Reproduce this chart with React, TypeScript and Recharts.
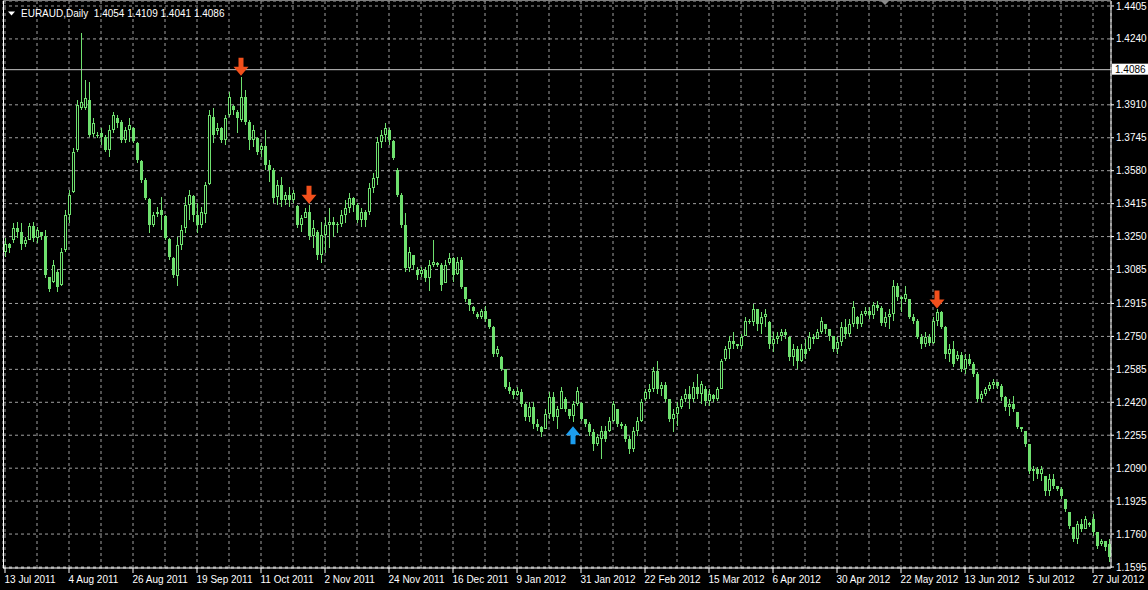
import {
  ComposedChart,
  Bar,
  Scatter,
  XAxis,
  YAxis,
  CartesianGrid,
  ReferenceLine,
} from "recharts";

// EURAUD daily bars, 13 Jul 2011 .. end of Jul 2012
const opens: number[] = [
  1.3175, 1.3215, 1.3235, 1.3295, 1.3275, 1.3215, 1.3235, 1.3305, 1.3245, 1.3275,
  1.3255, 1.3050, 1.3025, 1.3075, 1.3010, 1.3185, 1.3360, 1.3475, 1.3685, 1.3895,
  1.3895, 1.3935, 1.3765, 1.3760, 1.3770, 1.3750, 1.3685, 1.3785, 1.3845, 1.3825,
  1.3735, 1.3785, 1.3795, 1.3720, 1.3630, 1.3535, 1.3440, 1.3310, 1.3365, 1.3385,
  1.3355, 1.3240, 1.3145, 1.3055, 1.3210, 1.3295, 1.3410, 1.3455, 1.3360, 1.3310,
  1.3365, 1.3515, 1.3850, 1.3780, 1.3795, 1.3735, 1.3860, 1.3905, 1.3875, 1.3835,
  1.3950, 1.3825, 1.3735, 1.3745, 1.3685, 1.3705, 1.3610, 1.3585, 1.3450, 1.3510,
  1.3435, 1.3460, 1.3435, 1.3405, 1.3310, 1.3345, 1.3375, 1.3255, 1.3275, 1.3160,
  1.3260, 1.3310, 1.3325, 1.3310, 1.3315, 1.3360, 1.3395, 1.3445, 1.3410, 1.3335,
  1.3375, 1.3375, 1.3495, 1.3545, 1.3725, 1.3760, 1.3785, 1.3730, 1.3585, 1.3460,
  1.3310, 1.3095, 1.3160, 1.3085, 1.3065, 1.3085, 1.3045, 1.3110, 1.3120, 1.3110,
  1.3020, 1.3120, 1.3145, 1.3065, 1.3135, 1.2995, 1.2935, 1.2895, 1.2860, 1.2845,
  1.2875, 1.2835, 1.2795, 1.2660, 1.2645, 1.2585, 1.2495, 1.2475, 1.2455, 1.2470,
  1.2410, 1.2345, 1.2395, 1.2310, 1.2295, 1.2285, 1.2360, 1.2445, 1.2345, 1.2385,
  1.2435, 1.2385, 1.2350, 1.2410, 1.2415, 1.2335, 1.2310, 1.2270, 1.2210, 1.2235,
  1.2275, 1.2275, 1.2325, 1.2385, 1.2310, 1.2300, 1.2235, 1.2185, 1.2275, 1.2325,
  1.2435, 1.2470, 1.2485, 1.2575, 1.2485, 1.2505, 1.2435, 1.2335, 1.2360, 1.2395,
  1.2435, 1.2460, 1.2435, 1.2495, 1.2460, 1.2485, 1.2425, 1.2455, 1.2435, 1.2485,
  1.2635, 1.2685, 1.2725, 1.2710, 1.2700, 1.2750, 1.2825, 1.2820, 1.2885, 1.2810,
  1.2845, 1.2820, 1.2710, 1.2735, 1.2750, 1.2770, 1.2745, 1.2645, 1.2685, 1.2625,
  1.2685, 1.2685, 1.2745, 1.2735, 1.2770, 1.2810, 1.2785, 1.2750, 1.2685, 1.2720,
  1.2795, 1.2760, 1.2810, 1.2845, 1.2810, 1.2860, 1.2875, 1.2855, 1.2905, 1.2890,
  1.2815, 1.2845, 1.2860, 1.3000, 1.2945, 1.2935, 1.2935, 1.2845, 1.2825, 1.2745,
  1.2710, 1.2745, 1.2715, 1.2825, 1.2870, 1.2795, 1.2660, 1.2685, 1.2635, 1.2655,
  1.2585, 1.2635, 1.2610, 1.2560, 1.2435, 1.2460, 1.2485, 1.2505, 1.2520, 1.2500,
  1.2445, 1.2395, 1.2410, 1.2370, 1.2295, 1.2275, 1.2210, 1.2075, 1.2085, 1.2060,
  1.2050, 1.1975, 1.2035, 1.2000, 1.1985, 1.1935, 1.1870, 1.1795, 1.1735, 1.1810,
  1.1785, 1.1815, 1.1835, 1.1770, 1.1710, 1.1725, 1.1710,
];

const highs: number[] = [
  1.3245, 1.3220, 1.3320, 1.3325, 1.3320, 1.3250, 1.3320, 1.3325, 1.3300, 1.3275,
  1.3285, 1.3050, 1.3135, 1.3085, 1.3195, 1.3385, 1.3485, 1.3695, 1.3935, 1.4270,
  1.4035, 1.4025, 1.3845, 1.3775, 1.3795, 1.3760, 1.3810, 1.3875, 1.3860, 1.3835,
  1.3800, 1.3845, 1.3800, 1.3725, 1.3635, 1.3545, 1.3445, 1.3375, 1.3400, 1.3450,
  1.3360, 1.3245, 1.3150, 1.3250, 1.3310, 1.3450, 1.3485, 1.3460, 1.3420, 1.3400,
  1.3525, 1.3885, 1.3895, 1.3820, 1.3800, 1.3860, 1.3975, 1.3910, 1.3885, 1.4050,
  1.3985, 1.3835, 1.3810, 1.3750, 1.3720, 1.3785, 1.3635, 1.3595, 1.3535, 1.3550,
  1.3475, 1.3500, 1.3485, 1.3410, 1.3360, 1.3395, 1.3410, 1.3335, 1.3285, 1.3325,
  1.3350, 1.3395, 1.3350, 1.3325, 1.3385, 1.3435, 1.3470, 1.3450, 1.3420, 1.3395,
  1.3385, 1.3520, 1.3570, 1.3750, 1.3785, 1.3820, 1.3795, 1.3735, 1.3595, 1.3470,
  1.3370, 1.3200, 1.3160, 1.3100, 1.3100, 1.3100, 1.3135, 1.3235, 1.3125, 1.3120,
  1.3135, 1.3170, 1.3150, 1.3150, 1.3150, 1.2995, 1.2935, 1.2900, 1.2870, 1.2885,
  1.2900, 1.2835, 1.2800, 1.2700, 1.2650, 1.2585, 1.2520, 1.2485, 1.2495, 1.2485,
  1.2420, 1.2420, 1.2420, 1.2335, 1.2300, 1.2385, 1.2470, 1.2470, 1.2400, 1.2495,
  1.2445, 1.2385, 1.2425, 1.2495, 1.2420, 1.2335, 1.2320, 1.2285, 1.2260, 1.2300,
  1.2300, 1.2345, 1.2425, 1.2385, 1.2320, 1.2310, 1.2250, 1.2295, 1.2345, 1.2435,
  1.2485, 1.2510, 1.2595, 1.2625, 1.2520, 1.2520, 1.2435, 1.2385, 1.2420, 1.2450,
  1.2485, 1.2500, 1.2520, 1.2560, 1.2525, 1.2500, 1.2485, 1.2460, 1.2495, 1.2635,
  1.2700, 1.2750, 1.2770, 1.2710, 1.2760, 1.2845, 1.2835, 1.2910, 1.2885, 1.2870,
  1.2885, 1.2825, 1.2770, 1.2770, 1.2785, 1.2785, 1.2750, 1.2710, 1.2700, 1.2710,
  1.2735, 1.2770, 1.2760, 1.2785, 1.2845, 1.2810, 1.2785, 1.2750, 1.2745, 1.2820,
  1.2835, 1.2835, 1.2925, 1.2850, 1.2875, 1.2895, 1.2895, 1.2920, 1.2925, 1.2900,
  1.2870, 1.2885, 1.3035, 1.3020, 1.2950, 1.3000, 1.2935, 1.2860, 1.2835, 1.2760,
  1.2770, 1.2760, 1.2845, 1.2885, 1.2875, 1.2800, 1.2710, 1.2725, 1.2675, 1.2670,
  1.2660, 1.2660, 1.2620, 1.2570, 1.2475, 1.2495, 1.2520, 1.2535, 1.2520, 1.2510,
  1.2450, 1.2435, 1.2450, 1.2370, 1.2295, 1.2275, 1.2210, 1.2100, 1.2095, 1.2100,
  1.2050, 1.2060, 1.2060, 1.2000, 1.1995, 1.1935, 1.1870, 1.1795, 1.1825, 1.1835,
  1.1850, 1.1820, 1.1860, 1.1770, 1.1735, 1.1725, 1.1735,
];

const lows: number[] = [
  1.3150, 1.3170, 1.3220, 1.3245, 1.3185, 1.3200, 1.3235, 1.3225, 1.3220, 1.3235,
  1.3045, 1.2970, 1.3020, 1.2970, 1.3000, 1.3175, 1.3320, 1.3470, 1.3675, 1.3885,
  1.3885, 1.3750, 1.3750, 1.3745, 1.3710, 1.3675, 1.3650, 1.3770, 1.3795, 1.3720,
  1.3720, 1.3725, 1.3720, 1.3620, 1.3520, 1.3435, 1.3270, 1.3300, 1.3350, 1.3285,
  1.3235, 1.3135, 1.3045, 1.3000, 1.3185, 1.3270, 1.3335, 1.3325, 1.3270, 1.3295,
  1.3320, 1.3510, 1.3720, 1.3760, 1.3720, 1.3710, 1.3850, 1.3860, 1.3770, 1.3825,
  1.3810, 1.3685, 1.3700, 1.3660, 1.3650, 1.3585, 1.3525, 1.3420, 1.3410, 1.3400,
  1.3410, 1.3400, 1.3420, 1.3295, 1.3275, 1.3345, 1.3235, 1.3195, 1.3135, 1.3120,
  1.3170, 1.3195, 1.3250, 1.3270, 1.3300, 1.3320, 1.3370, 1.3375, 1.3320, 1.3300,
  1.3300, 1.3360, 1.3470, 1.3510, 1.3695, 1.3725, 1.3710, 1.3635, 1.3450, 1.3295,
  1.3075, 1.3075, 1.3085, 1.3035, 1.3050, 1.3025, 1.2975, 1.3100, 1.3100, 1.2975,
  1.3020, 1.3110, 1.3025, 1.3060, 1.2985, 1.2920, 1.2875, 1.2860, 1.2835, 1.2835,
  1.2820, 1.2785, 1.2645, 1.2645, 1.2575, 1.2485, 1.2460, 1.2435, 1.2450, 1.2395,
  1.2325, 1.2320, 1.2285, 1.2275, 1.2245, 1.2285, 1.2335, 1.2325, 1.2285, 1.2385,
  1.2370, 1.2335, 1.2320, 1.2400, 1.2325, 1.2295, 1.2250, 1.2175, 1.2200, 1.2135,
  1.2220, 1.2270, 1.2320, 1.2295, 1.2285, 1.2220, 1.2160, 1.2170, 1.2250, 1.2320,
  1.2425, 1.2435, 1.2470, 1.2460, 1.2450, 1.2420, 1.2320, 1.2270, 1.2300, 1.2385,
  1.2420, 1.2385, 1.2420, 1.2435, 1.2410, 1.2400, 1.2400, 1.2420, 1.2425, 1.2485,
  1.2625, 1.2635, 1.2685, 1.2685, 1.2685, 1.2750, 1.2810, 1.2800, 1.2775, 1.2760,
  1.2795, 1.2685, 1.2670, 1.2710, 1.2725, 1.2735, 1.2625, 1.2600, 1.2585, 1.2620,
  1.2635, 1.2675, 1.2710, 1.2735, 1.2760, 1.2760, 1.2725, 1.2670, 1.2660, 1.2700,
  1.2735, 1.2745, 1.2795, 1.2785, 1.2795, 1.2850, 1.2835, 1.2835, 1.2875, 1.2800,
  1.2795, 1.2785, 1.2825, 1.2925, 1.2870, 1.2920, 1.2835, 1.2810, 1.2735, 1.2685,
  1.2695, 1.2700, 1.2710, 1.2800, 1.2785, 1.2635, 1.2620, 1.2595, 1.2625, 1.2570,
  1.2560, 1.2600, 1.2545, 1.2420, 1.2420, 1.2450, 1.2475, 1.2485, 1.2485, 1.2425,
  1.2375, 1.2350, 1.2370, 1.2285, 1.2270, 1.2195, 1.2060, 1.2025, 1.2035, 1.2025,
  1.1950, 1.1950, 1.1985, 1.1975, 1.1935, 1.1870, 1.1785, 1.1720, 1.1710, 1.1770,
  1.1785, 1.1795, 1.1750, 1.1685, 1.1700, 1.1675, 1.1620,
];

const closes: number[] = [
  1.3215, 1.3195, 1.3295, 1.3275, 1.3215, 1.3235, 1.3305, 1.3245, 1.3285, 1.3255,
  1.3060, 1.2985, 1.3110, 1.2995, 1.3175, 1.3360, 1.3460, 1.3675, 1.3910, 1.3925,
  1.3945, 1.3760, 1.3820, 1.3755, 1.3750, 1.3685, 1.3785, 1.3860, 1.3820, 1.3735,
  1.3785, 1.3810, 1.3730, 1.3635, 1.3535, 1.3445, 1.3310, 1.3360, 1.3375, 1.3360,
  1.3245, 1.3150, 1.3060, 1.3210, 1.3285, 1.3410, 1.3460, 1.3360, 1.3310, 1.3375,
  1.3510, 1.3860, 1.3760, 1.3795, 1.3735, 1.3845, 1.3950, 1.3885, 1.3845, 1.3950,
  1.3825, 1.3735, 1.3785, 1.3675, 1.3705, 1.3610, 1.3585, 1.3445, 1.3510, 1.3435,
  1.3460, 1.3435, 1.3470, 1.3310, 1.3345, 1.3375, 1.3255, 1.3295, 1.3160, 1.3260,
  1.3310, 1.3325, 1.3310, 1.3315, 1.3360, 1.3395, 1.3445, 1.3410, 1.3335, 1.3375,
  1.3335, 1.3495, 1.3545, 1.3725, 1.3760, 1.3795, 1.3735, 1.3645, 1.3460, 1.3310,
  1.3095, 1.3175, 1.3110, 1.3060, 1.3085, 1.3045, 1.3110, 1.3125, 1.3110, 1.3010,
  1.3110, 1.3145, 1.3060, 1.3125, 1.2995, 1.2935, 1.2905, 1.2875, 1.2845, 1.2875,
  1.2835, 1.2795, 1.2660, 1.2685, 1.2585, 1.2495, 1.2475, 1.2455, 1.2475, 1.2410,
  1.2345, 1.2395, 1.2310, 1.2295, 1.2270, 1.2360, 1.2445, 1.2345, 1.2385, 1.2475,
  1.2385, 1.2350, 1.2410, 1.2475, 1.2335, 1.2310, 1.2270, 1.2210, 1.2245, 1.2275,
  1.2235, 1.2325, 1.2410, 1.2310, 1.2300, 1.2235, 1.2185, 1.2275, 1.2325, 1.2420,
  1.2470, 1.2485, 1.2575, 1.2485, 1.2505, 1.2435, 1.2335, 1.2360, 1.2395, 1.2435,
  1.2460, 1.2435, 1.2495, 1.2460, 1.2510, 1.2425, 1.2460, 1.2435, 1.2485, 1.2625,
  1.2685, 1.2725, 1.2710, 1.2700, 1.2745, 1.2825, 1.2820, 1.2885, 1.2810, 1.2845,
  1.2860, 1.2710, 1.2735, 1.2750, 1.2770, 1.2755, 1.2645, 1.2685, 1.2625, 1.2685,
  1.2660, 1.2745, 1.2735, 1.2770, 1.2825, 1.2785, 1.2750, 1.2685, 1.2720, 1.2795,
  1.2760, 1.2810, 1.2895, 1.2810, 1.2860, 1.2875, 1.2855, 1.2905, 1.2890, 1.2815,
  1.2845, 1.2860, 1.3000, 1.2945, 1.2935, 1.2960, 1.2845, 1.2825, 1.2745, 1.2710,
  1.2745, 1.2715, 1.2825, 1.2870, 1.2795, 1.2660, 1.2685, 1.2610, 1.2655, 1.2585,
  1.2635, 1.2610, 1.2560, 1.2435, 1.2460, 1.2485, 1.2505, 1.2520, 1.2500, 1.2445,
  1.2395, 1.2410, 1.2385, 1.2295, 1.2285, 1.2210, 1.2075, 1.2085, 1.2060, 1.2085,
  1.1975, 1.2035, 1.2000, 1.1985, 1.1950, 1.1885, 1.1800, 1.1735, 1.1810, 1.1785,
  1.1835, 1.1805, 1.1770, 1.1700, 1.1725, 1.1695, 1.1645,
];

// one label every 16 bars
const dateLabels = [
  "13 Jul 2011", "4 Aug 2011", "26 Aug 2011", "19 Sep 2011", "11 Oct 2011",
  "2 Nov 2011", "24 Nov 2011", "16 Dec 2011", "9 Jan 2012", "31 Jan 2012",
  "22 Feb 2012", "15 Mar 2012", "6 Apr 2012", "30 Apr 2012", "22 May 2012",
  "13 Jun 2012", "5 Jul 2012", "27 Jul 2012",
];

const priceTicks = [
  1.4405, 1.424, 1.391, 1.3745, 1.358, 1.3415, 1.325, 1.3085, 1.2915, 1.275,
  1.2585, 1.242, 1.2255, 1.209, 1.1925, 1.176, 1.1595,
];

const lastPrice = 1.4086;
const header = "EURAUD,Daily\u00a0\u00a01.4054 1.4109 1.4041 1.4086";

// signal arrows (bar indices)
const sellBars = [59, 76, 233];
const buyBars = [142];

const LABEL_STEP = 16;
const GREEN = "#6ee06e";
const FONT = "'Liberation Sans', Arial, sans-serif";
const FS = 10;

const candles = opens.map((open, i) => ({
  i,
  open,
  high: highs[i],
  low: lows[i],
  close: closes[i],
  sell: sellBars.includes(i) ? highs[i] : null,
  buy: buyBars.includes(i) ? lows[i] : null,
}));

const gridTicks = candles.filter((d) => d.i % (LABEL_STEP / 2) === 0).map((d) => d.i);

const Candle = (p: any) => {
  const { x, y, width, height, payload } = p;
  if (!payload) return null;
  const { open, close, high, low } = payload;
  const top = Math.min(y, y + height);
  const span = Math.abs(height);
  const k = high > low ? span / (high - low) : 0;
  const py = (v: number) => top + (high - v) * k;
  const cx = Math.round(x + width / 2);
  const bodyTop = Math.round(py(Math.max(open, close)));
  const bodyBot = Math.round(py(Math.min(open, close)));
  const wickTop = Math.round(top);
  const wickBot = Math.round(top + span);
  const bull = close >= open;
  return (
    <g shapeRendering="crispEdges">
      <rect x={cx} y={wickTop} width={1} height={Math.max(1, wickBot - wickTop)} fill={GREEN} />
      {bull && bodyBot - bodyTop >= 2 ? (
        <rect
          x={cx - 0.5}
          y={bodyTop + 0.5}
          width={2}
          height={bodyBot - bodyTop - 1}
          fill="#000"
          stroke={GREEN}
          strokeWidth={1}
        />
      ) : (
        <rect x={cx - 1} y={bodyTop} width={3} height={Math.max(1, bodyBot - bodyTop)} fill={GREEN} />
      )}
    </g>
  );
};

const SellArrow = (p: any) => {
  const { cx, cy } = p;
  if (cx == null || cy == null || isNaN(cy)) return <g />;
  const t = cy - 1;
  const pts = [
    [cx - 2.5, t - 18], [cx + 2.5, t - 18], [cx + 2.5, t - 9], [cx + 7.5, t - 9],
    [cx, t], [cx - 7.5, t - 9], [cx - 2.5, t - 9],
  ];
  return <polygon points={pts.map((q) => q.join(",")).join(" ")} fill="#f2501c" />;
};

const BuyArrow = (p: any) => {
  const { cx, cy } = p;
  if (cx == null || cy == null || isNaN(cy)) return <g />;
  const t = cy + 4;
  const pts = [
    [cx - 2.5, t + 18], [cx + 2.5, t + 18], [cx + 2.5, t + 9], [cx + 7.5, t + 9],
    [cx, t], [cx - 7.5, t + 9], [cx - 2.5, t + 9],
  ];
  return <polygon points={pts.map((q) => q.join(",")).join(" ")} fill="#1c9ef0" />;
};

const DateTick = (p: any) => {
  const { x, y, payload } = p;
  const v = Number(payload?.value);
  if (v % LABEL_STEP !== 0) return <g />;
  const label = dateLabels[v / LABEL_STEP];
  return (
    <g>
      <line x1={x} y1={y} x2={x} y2={y + 5} stroke="#fff" />
      <text x={x - 0.5} y={y + 15} fill="#fff" fontSize={FS} fontFamily={FONT} textAnchor="start">
        {label}
      </text>
    </g>
  );
};

const PriceTag = (p: any) => {
  const vb = p.viewBox || {};
  const right = (vb.x ?? 0) + (vb.width ?? 0);
  const yy = vb.y ?? 0;
  return (
    <g>
      <rect x={right + 1} y={yy - 6} width={37} height={11} fill="#fff" />
      <text x={right + 4} y={yy + 3.5} fill="#000" fontSize={FS} fontFamily={FONT}>
        {lastPrice.toFixed(4)}
      </text>
    </g>
  );
};

export default function App() {
  return (
    <div style={{ position: "absolute", left: 0, top: 0, width: 1148, height: 590, background: "#000" }}>
      <ComposedChart
        width={1148}
        height={590}
        data={candles}
        margin={{ top: 1, right: 0, left: 3, bottom: 0 }}
        barCategoryGap={0}
      >
        <CartesianGrid stroke="#a0a0a0" strokeDasharray="3 3" />
        <XAxis
          dataKey="i"
          type="category"
          ticks={gridTicks}
          interval={0}
          tick={<DateTick />}
          tickLine={false}
          tickSize={0}
          tickMargin={0}
          axisLine={{ stroke: "#fff" }}
          height={22}
        />
        <YAxis
          orientation="right"
          type="number"
          domain={[1.159, 1.443]}
          allowDataOverflow
          ticks={priceTicks}
          interval={0}
          tickFormatter={(v: number) => v.toFixed(4)}
          tick={{ fill: "#fff", fontSize: FS, fontFamily: FONT }}
          tickLine={{ stroke: "#fff" }}
          tickSize={3}
          tickMargin={2}
          axisLine={{ stroke: "#fff" }}
          width={37}
        />
        <ReferenceLine y={lastPrice} stroke="#c8c8c8" label={(props: any) => <PriceTag {...props} />} />
        <Bar dataKey={(d: any) => [d.low, d.high]} shape={(props: any) => <Candle {...props} />} isAnimationActive={false} />
        <Scatter dataKey="sell" shape={(props: any) => <SellArrow {...props} />} isAnimationActive={false} />
        <Scatter dataKey="buy" shape={(props: any) => <BuyArrow {...props} />} isAnimationActive={false} />
      </ComposedChart>
      <svg
        width={1148}
        height={590}
        style={{ position: "absolute", left: 0, top: 0, pointerEvents: "none" }}
      >
        <line x1={3.5} y1={0} x2={3.5} y2={568} stroke="#fff" />
        <line x1={3} y1={0.5} x2={1111} y2={0.5} stroke="#808080" />
        <polygon points="880,0 890,0 885,5" fill="#8a8a8a" />
        <polygon points="8,11.5 15,11.5 11.5,15.5" fill="#fff" />
        <text x={21} y={16.5} fill="#fff" fontSize={FS} fontFamily={FONT}>
          {header}
        </text>
      </svg>
    </div>
  );
}
